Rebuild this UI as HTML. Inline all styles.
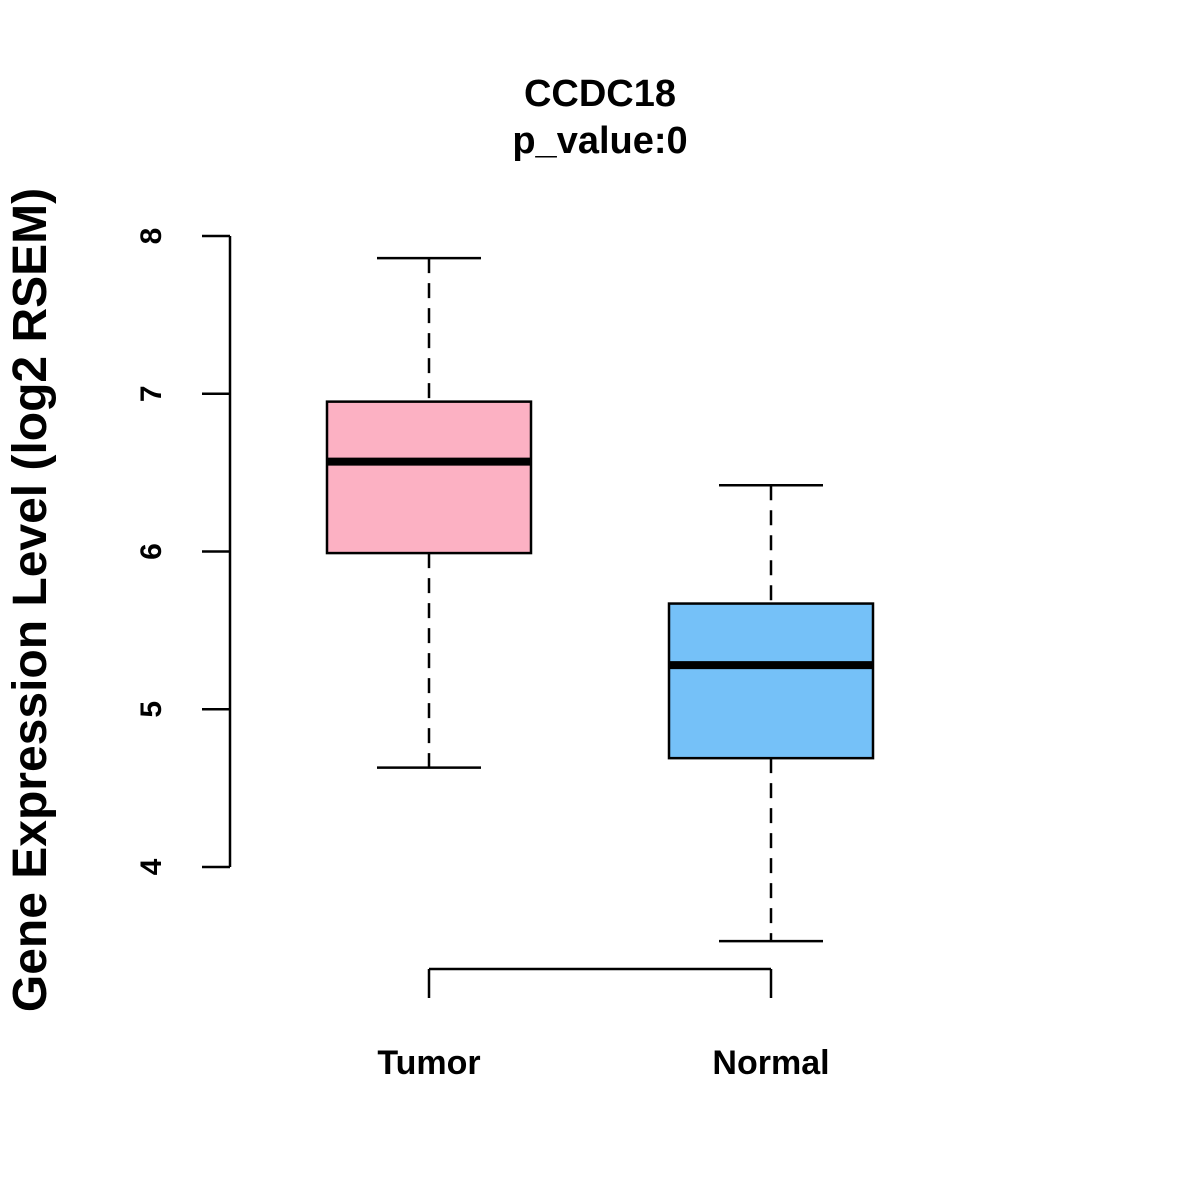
<!DOCTYPE html>
<html><head><meta charset="utf-8"><style>
html,body{margin:0;padding:0;background:#fff;}
svg{display:block;font-family:"Liberation Sans",Arial,sans-serif;font-weight:bold;}
</style></head><body>
<svg id="chart" width="1200" height="1200" viewBox="0 0 1200 1200">
<text x="600" y="106" text-anchor="middle" font-size="38">CCDC18</text>
<text x="600" y="153" text-anchor="middle" font-size="38">p_value:0</text>
<text transform="translate(46,600) rotate(-90)" text-anchor="middle" font-size="48">Gene Expression Level (log2 RSEM)</text>
<g id="yaxis"></g>
<g id="xaxis"></g>
<g id="boxes"></g>
</svg>
<script>
const categories = ["Tumor", "Normal"];
const whiskerLow = [4.63, 3.53];
const q1 = [5.99, 4.69];
const median = [6.57, 5.28];
const q3 = [6.95, 5.67];
const whiskerHigh = [7.86, 6.42];
const yTicks = [4, 5, 6, 7, 8];
const colors = ["#FCB1C3", "#75C1F8"];

const NS = "http://www.w3.org/2000/svg";
function y(v){ return 867 - (v - 4) * 157.75; }
function x(i){ return 429 + i * 342; }
function mk(parent, tag, attrs){
  const e = document.createElementNS(NS, tag);
  for (const k in attrs) e.setAttribute(k, attrs[k]);
  parent.appendChild(e);
  return e;
}
const ya = document.getElementById("yaxis");
const yl = mk(ya, "line", {x1:230, x2:230, y1:y(yTicks[yTicks.length-1]), y2:y(yTicks[0]), stroke:"#000", "stroke-width":2.5});


yTicks.forEach(t => {
  const tk = mk(ya, "line", {x1:202, x2:230, y1:y(t), y2:y(t), stroke:"#000", "stroke-width":2.5});
  
  
  const tx = mk(ya, "text", {transform:`translate(161,${y(t)}) rotate(-90)`, "text-anchor":"middle", "font-size":"30"});
  tx.textContent = t;
  
  
});
const xa = document.getElementById("xaxis");
const xl = mk(xa, "line", {x1:x(0), x2:x(categories.length-1), y1:969, y2:969, stroke:"#000", "stroke-width":2.5});


categories.forEach((c, i) => {
  const tk = mk(xa, "line", {x1:x(i), x2:x(i), y1:969, y2:998, stroke:"#000", "stroke-width":2.5});
  
  
  const tx = mk(xa, "text", {x:x(i), y:1074, "text-anchor":"middle", "font-size":"34"});
  tx.textContent = c;
  
  
});
const bx = document.getElementById("boxes");
categories.forEach((c, i) => {
  const cx = x(i);
  const g = mk(bx, "g", {});
  
  
  mk(g, "line", {x1:cx, x2:cx, y1:y(whiskerHigh[i]), y2:y(q3[i]), stroke:"#000", "stroke-width":2.5, "stroke-dasharray":"15,10"});
  mk(g, "line", {x1:cx, x2:cx, y1:y(q1[i]), y2:y(whiskerLow[i]), stroke:"#000", "stroke-width":2.5, "stroke-dasharray":"15,10"});
  mk(g, "line", {x1:cx-52, x2:cx+52, y1:y(whiskerHigh[i]), y2:y(whiskerHigh[i]), stroke:"#000", "stroke-width":2.5});
  mk(g, "line", {x1:cx-52, x2:cx+52, y1:y(whiskerLow[i]), y2:y(whiskerLow[i]), stroke:"#000", "stroke-width":2.5});
  mk(g, "rect", {x:cx-102, y:y(q3[i]), width:204, height:y(q1[i])-y(q3[i]), fill:colors[i], stroke:"#000", "stroke-width":2.5});
  mk(g, "line", {x1:cx-102, x2:cx+102, y1:y(median[i]), y2:y(median[i]), stroke:"#000", "stroke-width":8});
});
</script>
</body></html>
